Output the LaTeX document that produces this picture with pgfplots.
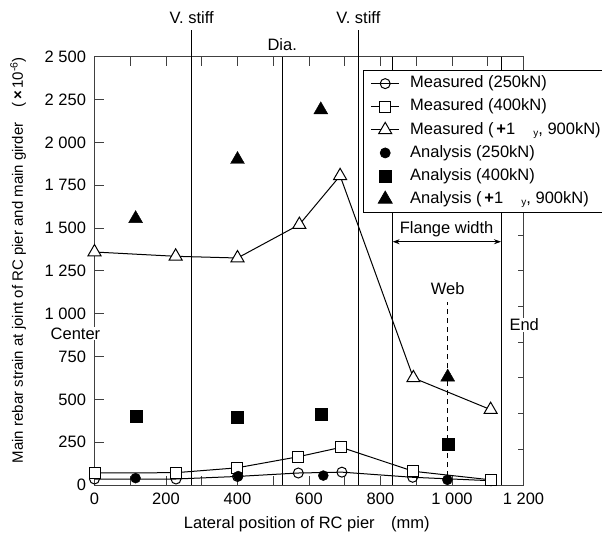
\documentclass[border=0pt]{standalone}
\usepackage{pgfplots}
\pgfplotsset{compat=1.18}
\usepackage{fontspec}
\setmainfont{Liberation Sans}
\usetikzlibrary{arrows.meta}
\pgfplotsset{
  linelegend/.style={legend image code/.code={\draw[mark repeat=2,mark phase=2,##1] plot coordinates {(0pt,0pt) (14pt,0pt) (28pt,0pt)};}},
  marklegend/.style={legend image code/.code={\draw[##1] plot coordinates {(14pt,0pt)};}},
}

\begin{document}
\begin{tikzpicture}[font=\fontsize{16.5}{19}\selectfont]
\useasboundingbox (0,0) rectangle (602pt,542pt);
\begin{axis}[
  at={(94.5pt,57pt)}, anchor=south west,
  scale only axis, width=429pt, height=428.3pt,
  xmin=0, xmax=1200, ymin=0, ymax=2500,
  clip=false,
  axis line style={black!75, line width=0.8pt},
  every tick/.style={black!75, line width=0.8pt},
  xtick={0,200,...,1200}, minor xtick={100,300,...,1100},
  ytick={0,250,...,2500},
  xtick pos=both, ytick pos=left,
  tick align=inside,
  major tick length=9pt, minor tick length=9pt,
  xticklabel style={yshift=-4pt},
  yticklabel style={xshift=-5pt},
  /pgf/number format/.cd, 1000 sep={\ }, assume math mode=true,
  /pgfplots/.cd,
  xlabel={Lateral position of RC pier\quad(mm)},
  ylabel={Main rebar strain at joint of RC pier and main girder\quad(\,\textbf{×}\,10\textsuperscript{-6})},
  xlabel style={at={(axis description cs:0.495,-0.091)}, anchor=center},
  ylabel style={font=\fontsize{15}{18}\selectfont, at={(axis description cs:-0.178,0.525)}, anchor=center},
  legend style={at={(axis description cs:0.6266,0.969)}, anchor=north west,
    draw=black, fill=white, line width=0.8pt, row sep=4.6pt, column sep=9pt,
    inner xsep=7pt, inner ysep=4pt,
    nodes={inner sep=1.5pt, text height=12pt, text depth=3.5pt},
    cells={anchor=west}},
  legend cell align=left,
]
% structural lines
\draw[line width=0.8pt] (axis cs:272,0) -- (axis cs:272,2656);
\draw[line width=0.8pt] (axis cs:738,0) -- (axis cs:738,2656);
\draw[line width=0.8pt] (axis cs:525,0) -- (axis cs:525,2500);
\draw[line width=0.8pt] (axis cs:834,0) -- (axis cs:834,2500);
\draw[line width=0.8pt] (axis cs:1137,0) -- (axis cs:1137,2500);
\draw[line width=0.8pt, dash pattern=on 5pt off 4pt] (axis cs:988,0) -- (axis cs:988,1070);
\draw[black!75, line width=0.8pt] (axis cs:1200,208.4) -- ++(-6pt,0pt);
\draw[black!75, line width=0.8pt] (axis cs:1200,416.8) -- ++(-6pt,0pt);
\draw[black!75, line width=0.8pt] (axis cs:1200,625.2) -- ++(-6pt,0pt);
\draw[black!75, line width=0.8pt] (axis cs:1200,833.6) -- ++(-6pt,0pt);
\draw[black!75, line width=0.8pt] (axis cs:1200,1042) -- ++(-6pt,0pt);
\draw[black!75, line width=0.8pt] (axis cs:1200,1250.4) -- ++(-6pt,0pt);
\draw[black!75, line width=0.8pt] (axis cs:1200,1458.8) -- ++(-6pt,0pt);

\addplot[black, line width=1pt, mark=o, mark size=5pt, mark options={fill=white, solid}, linelegend]
  coordinates {(0,35) (228,35) (400,50) (570,70) (692,75) (890,45) (1109,25)};
\addlegendentry{Measured (250kN)}
\addplot[black, line width=1pt, mark=square*, mark size=5.5pt, mark options={fill=white, solid}, linelegend]
  coordinates {(0,70) (228,72) (398,100) (570,165) (690,220) (892,80) (1109,30)};
\addlegendentry{Measured (400kN)}
\addplot[black, line width=1pt, mark=triangle*, mark size=7.5pt, mark options={fill=white, solid}, linelegend]
  coordinates {(0,1360) (227,1335) (400,1325) (573,1520) (687,1805) (892,625) (1108,440)};
\addlegendentry{Measured (\,\textbf{+}1\hspace{1.1em}\raisebox{-0.3ex}{\fontsize{10}{12}\selectfont y}, 900kN)}
\addplot[black, only marks, mark=*, mark size=5pt, marklegend]
  coordinates {(115,40) (402,52) (640,55) (987,30)};
\addlegendentry{Analysis (250kN)}
\addplot[black, only marks, mark=square*, mark size=6pt, marklegend]
  coordinates {(118,400) (400,397) (633,415) (988,240)};
\addlegendentry{Analysis (400kN)}
\addplot[black, only marks, mark=triangle*, mark size=8pt, marklegend]
  coordinates {(115,1555) (400,1900) (633,2190) (988,630)};
\addlegendentry{Analysis (\,\textbf{+}1\hspace{1.1em}\raisebox{-0.3ex}{\fontsize{10}{12}\selectfont y}, 900kN)}

\draw[{Stealth[length=7pt,width=5pt]}-{Stealth[length=7pt,width=5pt]}, line width=0.8pt] (axis cs:834,1420) -- (axis cs:1137,1420);
\node at (axis cs:985,1494) {Flange width};
\node at (axis cs:988,1144) {Web};
\node at (axis cs:272,2726) {V. stiff};
\node at (axis cs:738,2726) {V. stiff};
\node at (axis cs:525,2569) {Dia.};
\node[fill=white, inner sep=0.5pt, anchor=east] at (axis cs:18,885) {Center};
\node[fill=white, inner sep=1pt] at (axis cs:1202,934) {End};
\end{axis}
\end{tikzpicture}
\end{document}
